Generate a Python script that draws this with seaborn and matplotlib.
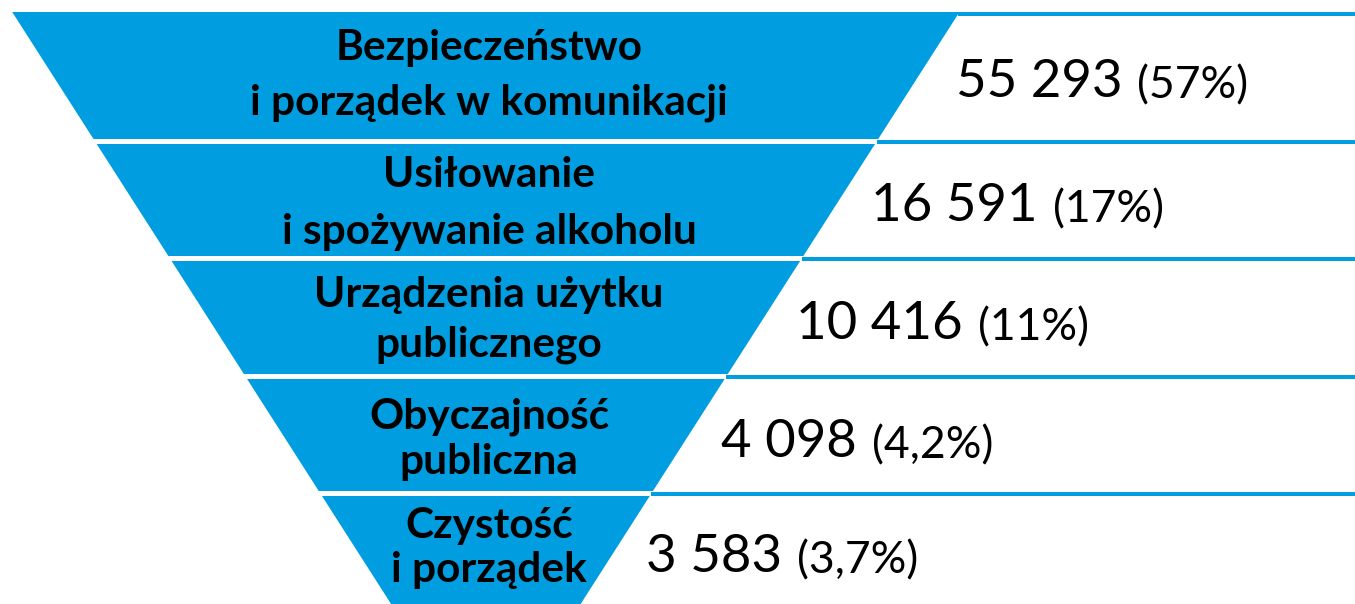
# Funnel of offence categories (Polish), values + shares on the right
import seaborn as sns
import matplotlib.pyplot as plt

# -----------------------------
# Data
# -----------------------------
categories = [
    "Bezpieczeństwo\ni porządek w komunikacji",
    "Usiłowanie\ni spożywanie alkoholu",
    "Urządzenia użytku\npublicznego",
    "Obyczajność\npubliczna",
    "Czystość\ni porządek",
]
counts = [55293, 16591, 10416, 4098, 3583]
shares = ["57%", "17%", "11%", "4,2%", "3,7%"]

# -----------------------------
# Layout (pixel units, y down)
# -----------------------------
W, H = 1355, 604
BLUE = "#009EE0"
band_tops = [12, 144, 261, 379, 496]
band_bottoms = [139, 256, 374, 491, 620]
left_x0, right_x0, slope = 12.2, 959.5, 0.64   # funnel edges at y=12
label_x = 489
label_lines_y = [(60, 115), (187, 244), (307, 356), (429, 474), (538, 582)]
value_y = [97, 221, 339, 457, 572]


def left_edge(y):
    return left_x0 + slope * (y - 12)


def right_edge(y):
    return right_x0 - slope * (y - 12)


sns.set_theme(style="white")
plt.rcParams["font.family"] = ["Lato", "DejaVu Sans"]

fig = plt.figure(figsize=(W / 100, H / 100), dpi=100)
ax = fig.add_axes([0, 0, 1, 1])
ax.set_xlim(0, W)
ax.set_ylim(H, 0)
ax.axis("off")

for i, (cat, n, pct) in enumerate(zip(categories, counts, shares)):
    t, b = band_tops[i], band_bottoms[i]
    xs = [left_edge(t), right_edge(t), right_edge(b), left_edge(b)]
    ys = [t, t, b, b]
    ax.fill(xs, ys, color=BLUE, lw=0, zorder=1)

    # blue rule from funnel edge to the right border
    ly = t + 2 if i == 0 else t - 2.5
    ax.hlines(ly, right_edge(ly), W, color=BLUE, lw=2.9, zorder=1)

    # category label, one text per line
    for line, y in zip(cat.split("\n"), label_lines_y[i]):
        ax.text(label_x, y, line, ha="center", va="baseline",
                fontsize=30.5, fontweight="bold", color="black", zorder=3)

    # value + share
    vx = right_edge(t) - 4
    txt = f"{n:,}".replace(",", " ")
    main = ax.text(vx, value_y[i], txt, ha="left", va="baseline",
                   fontsize=38, color="black", zorder=3)
    ax.annotate(f"({pct})", xy=(1, 0), xycoords=main, xytext=(11, 0),
                textcoords="offset points", ha="left", va="bottom",
                fontsize=32, color="black")

plt.savefig("out.png", dpi=100)
plt.close()
